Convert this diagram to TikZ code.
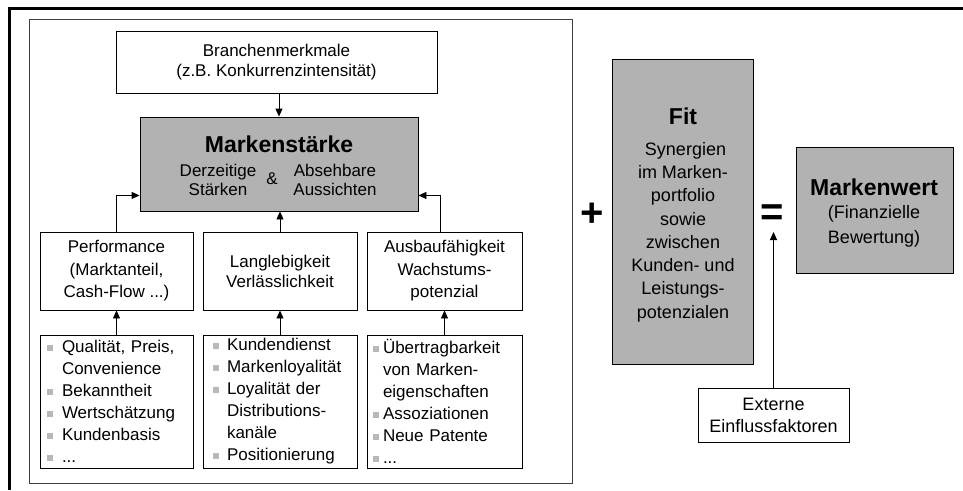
\documentclass[tikz,border=0pt]{standalone}
\usepackage{fontspec}
\setmainfont{Liberation Sans}
\usetikzlibrary{arrows.meta}
\definecolor{boxgray}{gray}{0.70}
\definecolor{bulgray}{gray}{0.72}
\definecolor{framegray}{gray}{0.25}
\newcommand{\bul}[1][15pt]{\makebox[#1][l]{\textcolor{bulgray}{\rule[1.5pt]{6pt}{6pt}}}}
\newcommand{\bulind}[1][15pt]{\hspace*{#1}}
\newcommand{\myfs}[2]{\fontsize{#1}{#2}\selectfont}
\begin{document}
\begin{tikzpicture}[x=1pt,y=-1pt,
  box/.style={draw=black, line width=0.9pt, inner sep=0pt, align=center},
  graybox/.style={box, fill=boxgray},
  listbox/.style={draw=black, line width=0.9pt, inner ysep=0pt, align=left, minimum height=133pt},
  arr/.style={-{Triangle[length=8pt,width=7pt]}, line width=0.9pt}]
\useasboundingbox (0,0) rectangle (963,490);
% frames
\draw[line width=3pt] (9,490) -- (9,8) -- (963,8);
\draw[framegray, line width=0.8pt] (29,19) rectangle (572,483);
% top
\node[box, minimum width=321pt, minimum height=62pt, font=\myfs{17}{20}] (branchen) at (276.5,62) {Branchenmerkmale\\(z.B. Konkurrenzintensität)};
\node[graybox, minimum width=278pt, minimum height=94pt] (staerke) at (279,164) {};
\node[font=\myfs{23}{26}\bfseries] (sttitle) at (279,144) {Markenstärke};
\node[font=\myfs{17}{18.5}, align=center] (stleft) at (218,180) {Derzeitige\\Stärken};
\node[font=\myfs{17}{19}] (stamp) at (272,179) {\&};
\node[font=\myfs{17}{18.5}, align=center] (stright) at (335,180) {Absehbare\\Aussichten};
% middle row
\node[box, minimum width=153pt, minimum height=78pt, font=\myfs{17}{22.5}] (perf) at (116.5,271) {Performance\\(Marktanteil,\\Cash-Flow ...)};
\node[box, minimum width=154pt, minimum height=78pt, font=\myfs{17}{20}] (lang) at (280,271) {Langlebigkeit\\Verlässlichkeit};
\node[box, minimum width=155pt, minimum height=78pt, font=\myfs{17}{22.5}] (ausb) at (444.5,271) {Ausbaufähigkeit\\Wachstums-\\potenzial};
% lists
\node[listbox, inner xsep=7pt, text width=139pt, font=\myfs{17}{22}] (la) at (116.5,401.5)
 {\bul Qualität, Preis,\\\bulind Convenience\\\bul Bekanntheit\\\bul Wertschätzung\\\bul Kundenbasis\\\bul ...};
\node[listbox, inner xsep=10pt, text width=134pt, font=\myfs{17}{22}] (lb) at (280,401.5)
 {\bul[14pt]Kundendienst\\\bul[14pt]Markenloyalität\\\bul[14pt]Loyalität der\\\bulind[14pt]Distributions-\\\bulind[14pt]kanäle\\\bul[14pt]Positionierung};
\node[listbox, inner xsep=6pt, text width=143pt, font=\myfs{17}{22}] (lc) at (444.5,401.5)
 {\bul[10pt]Übertragbarkeit\\\bulind[10pt]von Marken-\\\bulind[10pt]eigenschaften\\\bul[10pt]Assoziationen\\\bul[10pt]Neue Patente\\\bul[10pt]...};
% arrows left part
\draw[arr] (branchen.south -| staerke.north) -- (staerke.north);
\draw[arr] (perf.north) |- ([yshift=16pt]staerke.south west);
\draw[arr] (lang.north) -- (lang.north |- staerke.south);
\draw[arr] ([xshift=-4pt]ausb.north) |- ([yshift=16pt]staerke.south east);
\draw[arr] (la.north -| perf.south) -- (perf.south);
\draw[arr] (lb.north -| lang.south) -- (lang.south);
\draw[arr] (lc.north -| ausb.south) -- (ausb.south);
% right part
\node[font=\myfs{40}{40}\bfseries] (plus) at (592,215) {+};
\node[graybox, minimum width=141pt, minimum height=305pt] (fit) at (682.5,211.5) {};
\node[font=\myfs{23}{26}\bfseries] (fittitle) at (683,116) {Fit};
\node[font=\myfs{18}{23.3}, align=center] (fittext) at (683,232) {\hspace*{5pt}Synergien\\im Marken-\\portfolio\\sowie\\zwischen\\Kunden- und\\Leistungs-\\potenzialen};
\node[font=\myfs{40}{40}\bfseries] (eq) at (772,215.5) {=};
\node[graybox, minimum width=157pt, minimum height=126pt] (wert) at (874.5,210) {};
\node[font=\myfs{23}{26}\bfseries] (werttitle) at (874,187) {Markenwert};
\node[font=\myfs{18}{25}, align=center] (werttext) at (874,226) {(Finanzielle\\Bewertung)};
\node[box, minimum width=151pt, minimum height=54pt, font=\myfs{18}{22}] (ext) at (773.5,415) {Externe\\Einflussfaktoren};
\coordinate (exttip) at (773.5,232);
\draw[arr] (ext.north) -- (exttip);
\end{tikzpicture}
\end{document}
